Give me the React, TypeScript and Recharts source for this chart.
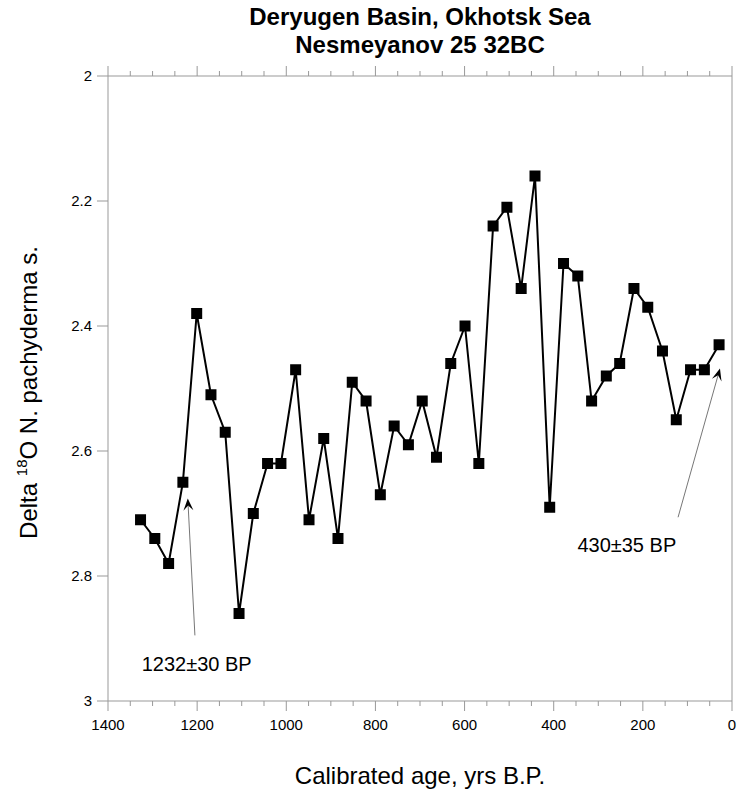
import React from 'react';
import { LineChart, Line, XAxis, YAxis, ReferenceLine, ReferenceDot } from 'recharts';

// calibrated age (yrs B.P.) and delta 18O
const ages = [1327, 1295, 1264, 1232, 1201, 1169, 1137, 1106, 1074, 1042, 1012, 979, 949, 916, 884, 852, 821, 789, 758, 726, 695, 663, 631, 599, 568, 536, 505, 473, 442, 409, 378, 346, 315, 282, 252, 220, 189, 156, 125, 93, 62, 29];
const delta = [2.71, 2.74, 2.78, 2.65, 2.38, 2.51, 2.57, 2.86, 2.70, 2.62, 2.62, 2.47, 2.71, 2.58, 2.74, 2.49, 2.52, 2.67, 2.56, 2.59, 2.52, 2.61, 2.46, 2.40, 2.62, 2.24, 2.21, 2.34, 2.16, 2.69, 2.30, 2.32, 2.52, 2.48, 2.46, 2.34, 2.37, 2.44, 2.55, 2.47, 2.47, 2.43];

const xTicks = [1400, 1350, 1300, 1250, 1200, 1150, 1100, 1050, 1000, 950, 900, 850, 800, 750, 700, 650, 600, 550, 500, 450, 400, 350, 300, 250, 200, 150, 100, 50, 0];
const yTicks = [2, 2.2, 2.4, 2.6, 2.8, 3];

// annotations: arrow tail -> tip, and text anchor
const noteTexts = ['1232±30 BP', '430±35 BP'];
const noteTails = [{ x: 1205, y: 2.895 }, { x: 121, y: 2.706 }];
const noteTips = [{ x: 1221, y: 2.676 }, { x: 27, y: 2.468 }];
const notePos = [{ x: 1201, y: 2.94 }, { x: 236, y: 2.751 }];

const data = ages.map((a, i) => ({ age: a, value: delta[i] }));

const FONT = '"Liberation Sans", Arial, Helvetica, sans-serif';
const AXIS = '#999';

const Square = (p: any) => (
    <rect x={p.cx - 5.5} y={p.cy - 5.5} width={11} height={11} fill="#000" />
);

const BottomTick = (p: any) => {
    const v = p.payload.value;
    const major = v % 200 === 0;
    return (
        <g>
            <line x1={p.x} x2={p.x} y1={p.y} y2={p.y + (major ? 10 : 5)} stroke={AXIS} />
            {major && (
                <text x={p.x} y={p.y + 29} textAnchor="middle" fontSize={15} fontFamily={FONT} fill="#000">{v}</text>
            )}
        </g>
    );
};

const TopTick = (p: any) => {
    const major = p.payload.value % 200 === 0;
    return <line x1={p.x} x2={p.x} y1={p.y} y2={p.y - (major ? 10 : 5)} stroke={AXIS} />;
};

const Arrow = (p: any) => {
    const { x1, y1, x2, y2 } = p;
    const len = Math.hypot(x2 - x1, y2 - y1);
    const dx = (x2 - x1) / len, dy = (y2 - y1) / len;
    const nx = -dy, ny = dx;
    const bx = x2 - dx * 12, by = y2 - dy * 12;
    const mx = x2 - dx * 7, my = y2 - dy * 7;
    return (
        <g>
            <line x1={x1} y1={y1} x2={mx} y2={my} stroke="#777" strokeWidth={1} />
            <polygon
                points={`${x2},${y2} ${bx + nx * 5},${by + ny * 5} ${mx},${my} ${bx - nx * 5},${by - ny * 5}`}
                fill="#000"
            />
        </g>
    );
};

const YLabel = (p: any) => {
    const vb = p.viewBox;
    const cx = vb.x - 11;
    const cy = vb.y + vb.height / 2 + 4;
    return (
        <text transform={`translate(${cx},${cy}) rotate(-90)`} textAnchor="middle" fontFamily={FONT} fontSize={24} fill="#000">
            Delta <tspan fontSize={15} dy={-10}>18</tspan><tspan dy={10}>O N. pachyderma s.</tspan>
        </text>
    );
};

export default function App() {
    return (
        <div style={{ position: 'absolute', left: 0, top: 0, width: 737, height: 791, background: '#fff', fontFamily: FONT }}>
            <div style={{ position: 'absolute', left: 108, top: 3, width: 624, textAlign: 'center', fontSize: 24, lineHeight: '28px', fontWeight: 'bold', color: '#000' }}>
                Deryugen Basin, Okhotsk Sea<br />Nesmeyanov 25 32BC
            </div>
            <div style={{ position: 'absolute', left: 108, top: 762, width: 624, textAlign: 'center', fontSize: 24, color: '#000' }}>
                Calibrated age, yrs B.P.
            </div>
            <LineChart width={737} height={791} data={data} margin={{ top: 56, right: 4, bottom: 50, left: 48 }}>
                <XAxis
                    dataKey="age" type="number" domain={[0, 1400]} reversed ticks={xTicks} interval={0}
                    height={40} tickSize={0} tickMargin={0} tickLine={false}
                    axisLine={{ stroke: AXIS }} tick={<BottomTick />}
                />
                <XAxis
                    xAxisId="top" orientation="top" dataKey="age" type="number" domain={[0, 1400]} reversed
                    ticks={xTicks} interval={0} height={20} tickSize={0} tickMargin={0} tickLine={false}
                    axisLine={{ stroke: AXIS }} tick={<TopTick />}
                />
                <YAxis
                    type="number" domain={[2, 3]} reversed ticks={yTicks} interval={0} width={60}
                    tickSize={11} tickMargin={5} tickLine={{ stroke: AXIS }} axisLine={{ stroke: AXIS }}
                    tick={{ fill: '#000', fontSize: 15, fontFamily: FONT }}
                    tickFormatter={(v: number) => String(+v.toFixed(1))}
                    label={<YLabel />}
                />
                <YAxis
                    yAxisId="r" orientation="right" type="number" domain={[2, 3]} reversed ticks={yTicks}
                    interval={0} width={1} tickSize={6} tick={false} tickLine={{ stroke: AXIS }} axisLine={{ stroke: AXIS }}
                />
                {noteTails.map((t, i) => (
                    <ReferenceLine key={'a' + i} segment={[t, noteTips[i]]} shape={<Arrow />} />
                ))}
                {notePos.map((n, i) => (
                    <ReferenceDot
                        key={'t' + i} x={n.x} y={n.y} r={0}
                        shape={(p: any) => (
                            <text x={p.cx} y={p.cy} dy="0.35em" textAnchor="middle" fontSize={20} fontFamily={FONT} fill="#000">{noteTexts[i]}</text>
                        )}
                    />
                ))}
                <Line
                    type="linear" dataKey="value" stroke="#000" strokeWidth={2}
                    dot={<Square />} activeDot={false} isAnimationActive={false}
                />
            </LineChart>
        </div>
    );
}
